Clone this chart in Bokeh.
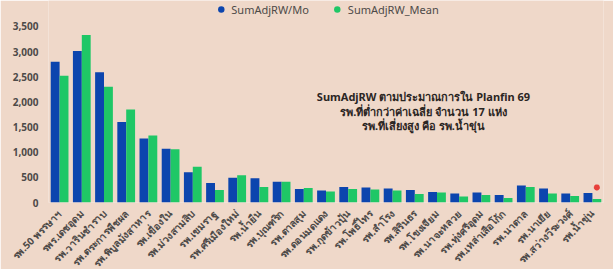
from bokeh.plotting import figure
from bokeh.models import ColumnDataSource, FactorRange, Legend, LegendItem, Label, NumeralTickFormatter, FixedTicker
from bokeh.transform import dodge
from bokeh.embed import file_html
from bokeh.resources import INLINE
import math

hospitals = [
    "รพ.50 พรรษาฯ", "รพร.เดชอุดม", "รพ.วารินชำราบ", "รพ.ตระการพืชผล", "รพ.พิบูลมังสาหาร",
    "รพ.เขื่องใน", "รพ.ม่วงสามสิบ", "รพ.เขมราฐ", "รพ.ศรีเมืองใหม่", "รพ.น้ำยืน",
    "รพ.บุณฑริก", "รพ.ตาลสุม", "รพ.ดอนมดแดง", "รพ.กุดข้าวปุ้น", "รพ.โพธิ์ไทร",
    "รพ.สำโรง", "รพ.สิรินธร", "รพ.โขงเจียม", "รพ.นาจะหลวย", "รพ.ทุ่งศรีอุดม",
    "รพ.เหล่าเสือโก้ก", "รพ.นาตาล", "รพ.นาเยีย", "รพ.สว่างวีระวงศ์", "รพ.น้ำขุ่น",
]
sum_mo = [2800, 3010, 2590, 1600, 1270, 1070, 600, 390, 490, 480,
          410, 270, 240, 310, 300, 280, 250, 210, 180, 200,
          150, 340, 280, 180, 190]
sum_mean = [2520, 3330, 2300, 1850, 1330, 1060, 710, 250, 540, 310,
            410, 290, 220, 270, 260, 240, 170, 200, 120, 150,
            90, 310, 180, 130, 70]
y_ticks = [0, 500, 1000, 1500, 2000, 2500, 3000, 3500]
title_lines = [
    "SumAdjRW ตามประมาณการใน Planfin 69",
    "รพ.ที่ต่ำกว่าค่าเฉลี่ย จำนวน 17 แห่ง",
    "รพ.ที่เสี่ยงสูง คือ รพ.น้ำขุ่น",
]
flagged = ["รพ.น้ำขุ่น"]
flagged_y = [300]

BLUE = "#0C45AE"
GREEN = "#1FC766"
BG = "#EFD8C9"
TXT = "#4d4a48"
FONT = "Noto Sans"

src = ColumnDataSource(dict(h=hospitals, mo=sum_mo, mean=sum_mean))

p = figure(x_range=FactorRange(factors=hospitals, range_padding=0),
           y_range=(0, 4015), frame_width=555, frame_height=202,
           output_backend="svg", toolbar_location=None,
           background_fill_color=BG, border_fill_color=BG,
           outline_line_color=None,
           min_border_left=48, min_border_right=10, min_border_top=0, min_border_bottom=0)

p.vbar(x=dodge("h", -0.2, range=p.x_range), top="mo", width=0.4, source=src,
       fill_color=BLUE, line_color=None)
p.vbar(x=dodge("h", 0.2, range=p.x_range), top="mean", width=0.4, source=src,
       fill_color=GREEN, line_color=None)

fsrc = ColumnDataSource(dict(h=flagged, y=flagged_y))
p.scatter(x=dodge("h", 0.2, range=p.x_range), y="y", source=fsrc, marker="asterisk",
          size=6, line_color="#e8403a", line_width=2)

# legend proxies (a single point with no y value, so only the legend shows it)
nan = float("nan")
r1 = p.scatter(x=hospitals[:1], y=[nan], marker="circle", size=11, fill_color=BLUE, line_color=None)
r2 = p.scatter(x=hospitals[:1], y=[nan], marker="circle", size=11, fill_color=GREEN, line_color=None)
legend = Legend(items=[LegendItem(label="SumAdjRW/Mo", renderers=[r1]),
                       LegendItem(label="SumAdjRW_Mean", renderers=[r2])],
                orientation="horizontal", location="top_center",
                background_fill_alpha=0, border_line_color=None,
                label_text_font=FONT, label_text_font_size="11px",
                label_text_color=TXT, glyph_width=16, glyph_height=16,
                spacing=20, padding=0, margin=1, label_standoff=3)
p.add_layout(legend)

p.yaxis.ticker = FixedTicker(ticks=y_ticks)
p.yaxis.formatter = NumeralTickFormatter(format="0,0")
for ax in (p.xaxis, p.yaxis):
    ax.axis_line_color = None
    ax.major_tick_line_color = None
    ax.minor_tick_line_color = None
    ax.major_label_text_font = FONT
    ax.major_label_text_color = TXT
    ax.major_label_text_font_style = "bold"
p.yaxis.major_label_text_font_size = "10px"
p.yaxis.major_label_standoff = 4
p.xaxis.major_label_text_font_size = "10px"
p.xaxis.major_label_orientation = math.pi / 4
p.xaxis.major_label_standoff = 3
p.xgrid.grid_line_color = None
p.ygrid.grid_line_color = None

for i, line in enumerate(title_lines):
    p.add_layout(Label(x=375, y=106 - 14.5 * i, x_units="screen", y_units="screen",
                       text=line, text_align="center", text_baseline="middle",
                       text_font=FONT, text_font_size="11px",
                       text_font_style="bold", text_color="#2b2523"))

open("out.html", "w").write(file_html(p, INLINE))
